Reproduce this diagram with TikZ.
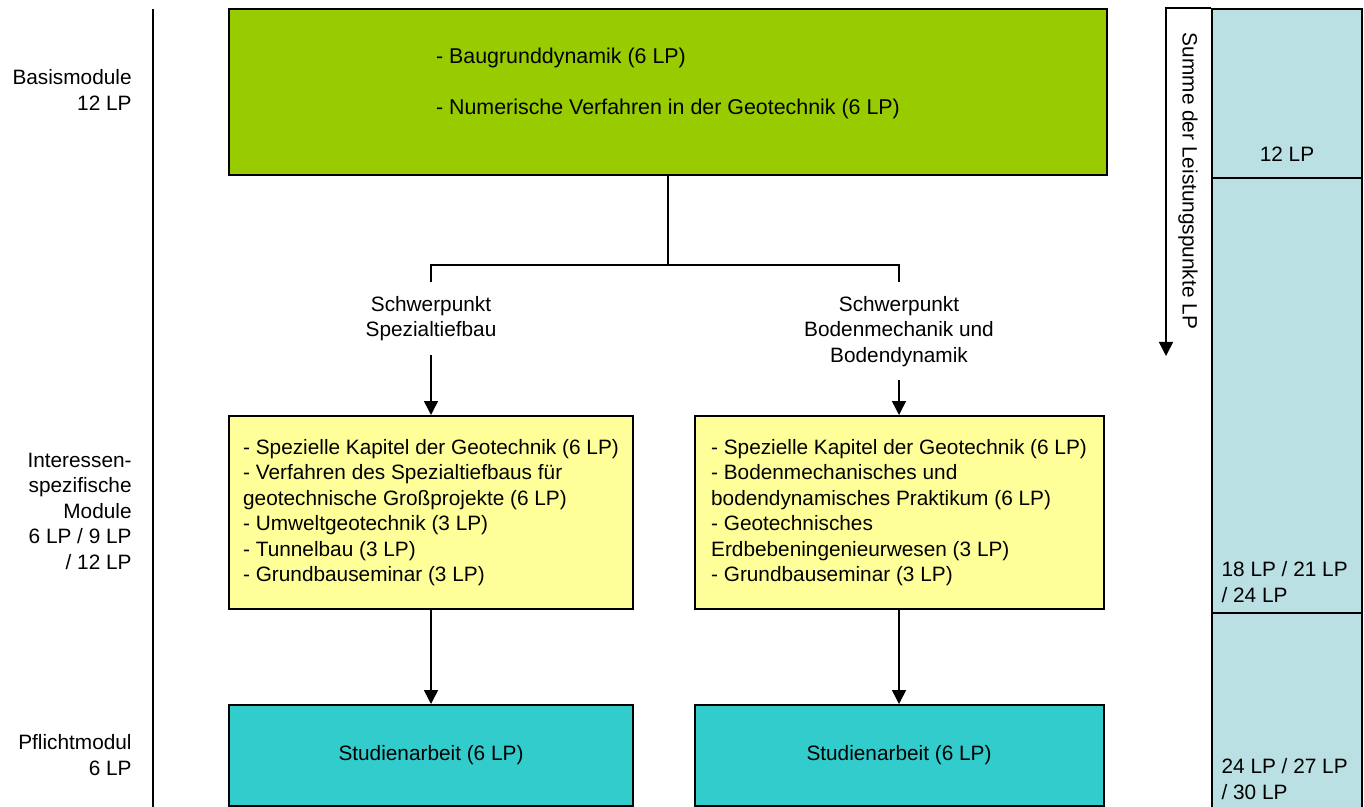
\documentclass[tikz,border=0pt]{standalone}
\usepackage{fontspec}
\setmainfont{Liberation Sans}
\usetikzlibrary{ arrows.meta, % For the filled triangle tips
                 positioning, % For easy node-relative placements
               }
\definecolor{basisgreen}{HTML}{99CC00}
\definecolor{wahlyellow}{HTML}{FFFF99}
\definecolor{pflichtteal}{HTML}{33CCCC}
\definecolor{summeblue}{HTML}{BBE0E3}

\tikzstyle{module} = [rectangle, draw=black, line width=1pt, inner sep=0pt]
\tikzstyle{basisbox} = [module, fill=basisgreen, minimum width=439pt, minimum height=83pt, align=left]
\tikzstyle{wahlbox} = [module, fill=wahlyellow, minimum height=96.5pt, align=left]
\tikzstyle{pflichtbox} = [module, fill=pflichtteal, minimum height=50.5pt]
\tikzstyle{focus} = [align=center, inner sep=4pt, outer sep=3pt]
\tikzstyle{rowlabel} = [align=right, inner sep=0pt, anchor=east]
\tikzstyle{sumcell} = [rectangle, draw=black, line width=0.8pt, fill=summeblue, minimum width=75pt, inner sep=0pt]
\tikzstyle{sumtext} = [align=left, inner sep=2pt]
\tikzstyle{link} = [line width=0.75pt]
\tikzstyle{flow} = [link, -{Triangle[width=7pt, length=7pt]}]

\begin{document}
\begin{tikzpicture}[x=0.5pt, y=-0.5pt, font=\fontsize{10.4pt}{12.75pt}\selectfont]
  \useasboundingbox (0,0) rectangle (1364,807);

  % row labels
  \node (lBasis) [rowlabel] at (132,90) {Basismodule\\12 LP};
  \node (lWahl) [rowlabel] at (132,511) {Interessen-\\spezifische\\Module\\6 LP / 9 LP\\/ 12 LP};
  \node (lPflicht) [rowlabel] at (132,755) {Pflichtmodul\\6 LP};
  \draw [link] (153,9) -- (153,807);

  \node (basis) [basisbox, font=\fontsize{10.7pt}{12.75pt}\selectfont] at (668,92) {- Baugrunddynamik (6 LP)\\[12.75pt]- Numerische Verfahren in der Geotechnik (6 LP)\\[-6pt]\strut};
  \coordinate (split) at (668,265);

  \node (spezHead) [focus, anchor=north] at (431,282) {Schwerpunkt\\Spezialtiefbau};
  \node (bodenHead) [focus, anchor=north] at (899,282) {Schwerpunkt\\Bodenmechanik und\\Bodendynamik};
  \draw [link] (basis) -- (split);
  \draw [link] (spezHead.north) |- (split) -| (bodenHead.north);

  \node (spezBox) [wahlbox, minimum width=202pt] at (431,512.5) {- Spezielle Kapitel der Geotechnik (6 LP)\\- Verfahren des Spezialtiefbaus für\\geotechnische Großprojekte (6 LP)\\- Umweltgeotechnik (3 LP)\\- Tunnelbau (3 LP)\\- Grundbauseminar (3 LP)};
  \node (bodenBox) [wahlbox, minimum width=204.5pt] at (899,512.5) {- Spezielle Kapitel der Geotechnik (6 LP)\\- Bodenmechanisches und\\bodendynamisches Praktikum (6 LP)\\- Geotechnisches\\Erdbebeningenieurwesen (3 LP)\\- Grundbauseminar (3 LP)};

  \node (spezArbeit) [pflichtbox, minimum width=202pt] at (431,755.5) {Studienarbeit (6 LP)};
  \node (bodenArbeit) [pflichtbox, minimum width=204.5pt] at (899,755.5) {Studienarbeit (6 LP)};

  \draw [flow] (spezHead) -- (spezBox);
  \draw [flow] (bodenHead) -- (bodenBox);
  \draw [flow] (spezBox) -- (spezArbeit);
  \draw [flow] (bodenBox) -- (bodenArbeit);

  % running sum of credit points
  \node (sum1) [sumcell, minimum height=84.5pt] at (1287,93.5) {};
  \node (sum2) [sumcell, minimum height=217.5pt] at (1287,395.5) {};
  \node (sum3) [sumcell, minimum height=98.5pt] at (1287,711.5) {};
  \node (sumA) [sumtext, above=6.3pt of sum1.south] {12 LP};
  \node (sumB) [sumtext, above right=3.6pt and 3pt of sum2.south west] {18 LP / 21 LP\\/ 24 LP};
  \node (sumC) [sumtext, above right=3.6pt and 3pt of sum3.south west] {24 LP / 27 LP\\/ 30 LP};

  \coordinate (sumEnd) at (1166,356);
  \node (sumLabel) [rotate=-90] at (1188,181) {Summe der Leistungspunkte LP};
  \draw [flow] (sum1.north west) -| (sumEnd);
\end{tikzpicture}
\end{document}
